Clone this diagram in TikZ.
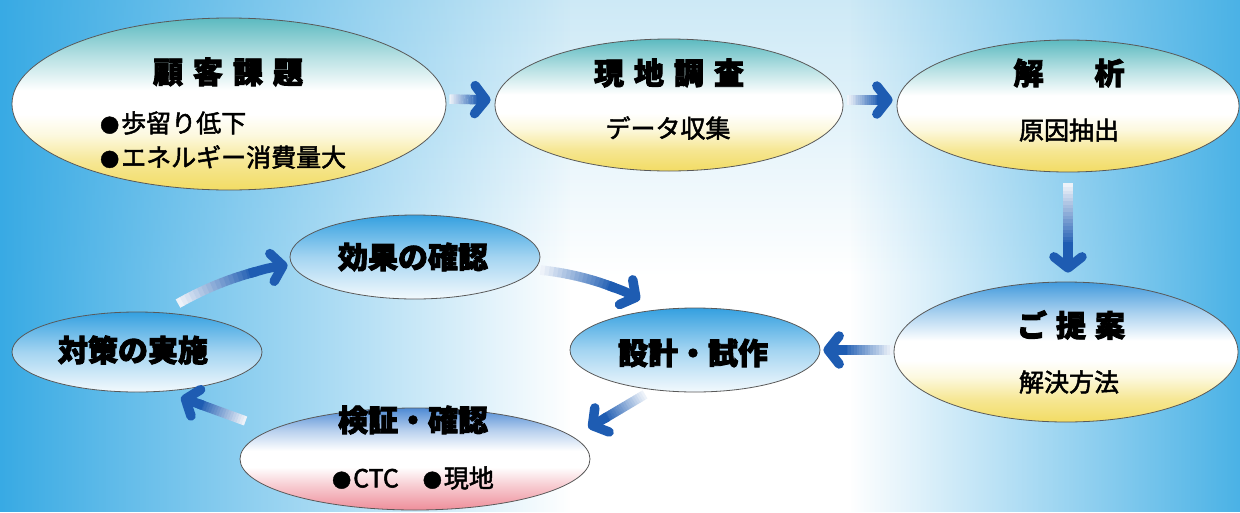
\documentclass[tikz,border=0pt]{standalone}
\usepackage{fontspec}
\newfontfamily\jp{Noto Sans CJK JP}[BoldFeatures={FakeBold=3}]
\newfontfamily\jpm{Noto Sans CJK JP}[FakeBold=2]
\usetikzlibrary{shapes.geometric,arrows.meta,calc,fadings}

\definecolor{arrowdark}{RGB}{30,92,178}
\definecolor{skyL}{RGB}{56,170,228}
\definecolor{skyR}{RGB}{74,178,230}
\definecolor{skyTop}{RGB}{205,233,246}
\definecolor{teal1}{RGB}{92,186,192}
\definecolor{yel}{RGB}{242,220,100}
\definecolor{pyel}{RGB}{250,242,190}
\definecolor{blue1}{RGB}{66,154,220}
\definecolor{blue2}{RGB}{52,160,224}
\definecolor{blue3}{RGB}{78,138,212}
\definecolor{pink1}{RGB}{238,142,154}

\pgfdeclareverticalshading{vbg}{100bp}{color(0bp)=(white); color(25bp)=(white); color(48bp)=(white); color(75bp)=(skyTop); color(100bp)=(skyTop)}
\pgfdeclareverticalshading{ty}{100bp}{color(0bp)=(yel); color(25bp)=(yel); color(33bp)=(yel!70!white); color(41bp)=(pyel!50!white); color(47bp)=(white); color(54bp)=(white); color(64bp)=(teal1!45!white); color(75bp)=(teal1); color(100bp)=(teal1)}
\pgfdeclareverticalshading{by}{100bp}{color(0bp)=(yel); color(25bp)=(yel); color(33bp)=(yel!70!white); color(41bp)=(pyel!50!white); color(47bp)=(white); color(54bp)=(white); color(64bp)=(blue1!45!white); color(75bp)=(blue1); color(100bp)=(blue1)}
\pgfdeclareverticalshading{bw}{100bp}{color(0bp)=(blue2!6!white); color(25bp)=(blue2!6!white); color(50bp)=(blue2!45!white); color(75bp)=(blue2); color(100bp)=(blue2)}
\pgfdeclareverticalshading{bp}{100bp}{color(0bp)=(pink1); color(25bp)=(pink1); color(37bp)=(pink1!45!white); color(46bp)=(white); color(54bp)=(white); color(64bp)=(blue3!40!white); color(75bp)=(blue3); color(100bp)=(blue3)}

\tikzfading[name=fadeR, left color=transparent!0, right color=transparent!100]
\tikzfading[name=fadeL, left color=transparent!100, right color=transparent!0]

\newcommand\tsp[1]{\hspace{#1pt}}
\newcommand\bul{{\fontsize{19}{19}\selectfont ●}\hspace{2pt}}

\newcommand\gradarrow[3]{%
  \path (#1) coordinate (ga-s);
  \path (#3) coordinate (ga-e);
  \path (#2) coordinate (ga-c);
  \foreach \i in {0,...,17}{%
    \pgfmathsetmacro\ta{\i*0.04}%
    \pgfmathsetmacro\tb{(\i+1)*0.04+0.005}%
    \pgfmathtruncatemacro\pc{8+92*\i/17}%
    \coordinate (ga-u) at ($(ga-s)!\ta!(ga-c)$);
    \coordinate (ga-v) at ($(ga-c)!\ta!(ga-e)$);
    \coordinate (ga-w) at ($(ga-s)!\tb!(ga-c)$);
    \coordinate (ga-x) at ($(ga-c)!\tb!(ga-e)$);
    \draw[shaftline, draw=arrowdark!\pc!white] ($(ga-u)!\ta!(ga-v)$) -- ($(ga-w)!\tb!(ga-x)$);
  }%
  \coordinate (ga-p) at ($(ga-s)!0.66!(ga-c)$);
  \coordinate (ga-q) at ($(ga-c)!0.66!(ga-e)$);
  \draw[headline] ($(ga-p)!0.66!(ga-q)$) .. controls (ga-q) .. (ga-e);
}

\tikzset{
  ell/.style={ellipse, draw=black!65, line width=0.8pt, inner sep=0pt},
  title/.style={font=\jp\bfseries\fontsize{30}{32}\selectfont, inner sep=0pt},
  subtxt/.style={font=\jpm\fontsize{25}{28}\selectfont, inner sep=0pt},
  shaftline/.style={line width=9.5pt},
  headline/.style={line width=9.5pt, draw=arrowdark, -{Straight Barb[length=11pt,width=28pt,round]}},
}

\begin{document}
\begin{tikzpicture}[x=1pt, y=-1pt]
\useasboundingbox (0,0) rectangle (1240,512);
% background
\fill[shading=vbg] (0,0) rectangle (1240,512);
\fill[skyL, path fading=fadeR] (0,0) rectangle (570,512);
\fill[skyR, path fading=fadeL] (850,0) rectangle (1240,512);

% ellipses
\node[ell, shading=ty, minimum width=434pt, minimum height=172pt] (kokyaku) at (229,104) {};
\node[ell, shading=ty, minimum width=348pt, minimum height=132pt] (genchi) at (669,105) {};
\node[ell, shading=ty, minimum width=342pt, minimum height=132pt] (kaiseki) at (1068,106) {};
\node[ell, shading=by, minimum width=344pt, minimum height=140pt] (teian) at (1066,352) {};
\node[ell, shading=bw, minimum width=250pt, minimum height=84pt] (sekkei) at (695,350) {};
\node[ell, shading=bw, minimum width=250pt, minimum height=84pt] (kouka) at (415,257) {};
\node[ell, shading=bw, minimum width=250pt, minimum height=80pt] (taisaku) at (137,352) {};
\node[ell, shading=bp, minimum width=350pt, minimum height=102pt] (kensho) at (415,459) {};

% texts
\node[title] (kokyaku-t) at (228,72) {顧\tsp{10}客\tsp{10}課\tsp{10}題};
\node[subtxt, anchor=west] (kokyaku-b1) at (100,123) {\bul 歩留り低下};
\node[subtxt, anchor=west] (kokyaku-b2) at (100,157) {\bul エネルギー消費量大};
\node[title] (genchi-t) at (669,73) {現\tsp{10}地\tsp{10}調\tsp{10}査};
\node[subtxt] (genchi-s) at (668,128) {データ収集};
\node[title] (kaiseki-t) at (1069,73) {解\tsp{51}析};
\node[subtxt] (kaiseki-s) at (1069,130) {原因抽出};
\node[title] (teian-t) at (1071,325) {ご\tsp{9}提\tsp{9}案};
\node[subtxt] (teian-s) at (1069,382) {解決方法};
\node[title] (sekkei-t) at (693,353) {設計・試作};
\node[title] (kouka-t) at (413,257) {効果の確認};
\node[title] (taisaku-t) at (133,350) {対策の実施};
\node[title] (kensho-t) at (413,420) {検証・確認};
\node[subtxt] (kensho-s) at (413,478) {\bul CTC\tsp{24}\bul 現地};

% arrows
\gradarrow{[xshift=3pt,yshift=5pt]kokyaku.east}{$(ga-s)!0.5!(ga-e)$}{[xshift=-4pt,yshift=5pt]genchi.west}
\gradarrow{[xshift=4pt,yshift=5pt]genchi.east}{$(ga-s)!0.5!(ga-e)$}{[xshift=-4pt,yshift=6pt]kaiseki.west}
\gradarrow{[yshift=-11pt]kaiseki.south}{$(ga-s)!0.5!(ga-e)$}{[xshift=2pt,yshift=9pt]teian.north}
\gradarrow{[xshift=-1pt,yshift=2pt]teian.west}{$(ga-s)!0.5!(ga-e)$}{[xshift=3pt]sekkei.east}
\gradarrow{[xshift=-50pt,yshift=-2pt]sekkei.south}{$(ga-s)!0.5!(ga-e)$}{[xshift=-2pt,yshift=31pt]kensho.east}
\gradarrow{[xshift=6pt,yshift=38pt]kensho.west}{$(ga-s)!0.5!(ga-e)$}{[xshift=44pt,yshift=-5pt]taisaku.south}
\gradarrow{[xshift=41pt,yshift=8pt]taisaku.north}{230,274}{[xshift=-2pt,yshift=-8pt]kouka.west}
\gradarrow{[yshift=-13pt]kouka.east}{596,276}{[xshift=-55pt,yshift=8pt]sekkei.north}
\end{tikzpicture}
\end{document}
